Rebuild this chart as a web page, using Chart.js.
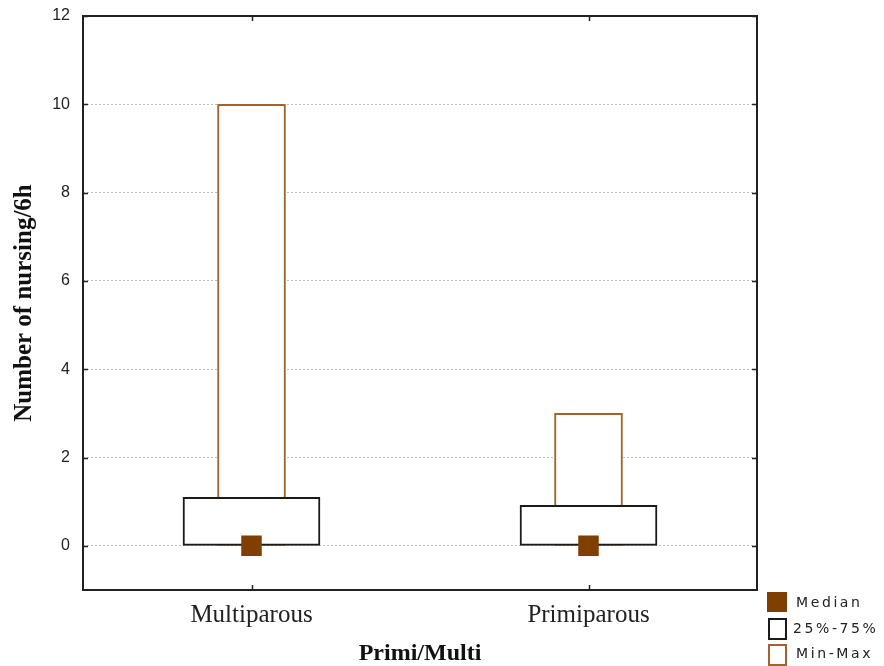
<!DOCTYPE html>
<html>
<head>
<meta charset="utf-8">
<script src="https://cdn.jsdelivr.net/npm/chart.js@4.4.1/dist/chart.umd.min.js"></script>
<style>
  html, body { margin: 0; padding: 0; background: #fff; }
  #wrap { width: 884px; height: 666px; position: relative; }
</style>
</head>
<body>
<div id="wrap"><canvas id="c" width="884" height="666"></canvas></div>
<script>
const categories = ['Multiparous', 'Primiparous'];
const minValues = [0, 0];
const maxValues = [10, 3];
const q25Values = [0, 0];
const q75Values = [1.1, 0.92];
const medianValues = [0, 0];
const yTickValues = [0, 2, 4, 6, 8, 10, 12];
const legendLabels = ['Median', '25%-75%', 'Min-Max'];

const MEDIAN_COLOR = '#7f3f00';
const MINMAX_COLOR = '#a0642d';
const BOX_COLOR = '#1a1a1a';
const FRAME_COLOR = '#222';

const framePlugin = {
  id: 'frame',
  afterDatasetsDraw(chart) {
    const ctx = chart.ctx;
    const a = chart.chartArea;
    const y = chart.scales.y, x = chart.scales.x;
    ctx.save();
    ctx.strokeStyle = FRAME_COLOR;
    ctx.lineWidth = 2;
    ctx.strokeRect(a.left, a.top, a.right - a.left, a.bottom - a.top);
    ctx.lineWidth = 1.5;
    ctx.beginPath();
    yTickValues.forEach(v => {
      const py = Math.round(y.getPixelForValue(v)) + 0.5;
      ctx.moveTo(a.left, py); ctx.lineTo(a.left + 5, py);
      ctx.moveTo(a.right, py); ctx.lineTo(a.right - 5, py);
    });
    categories.forEach((c, i) => {
      const px = Math.round(x.getPixelForValue(i)) + 0.5;
      ctx.moveTo(px, a.top); ctx.lineTo(px, a.top + 5);
      ctx.moveTo(px, a.bottom); ctx.lineTo(px, a.bottom - 5);
    });
    ctx.stroke();
    ctx.restore();
  },
  afterDraw(chart) {
    const ctx = chart.ctx;
    const a = chart.chartArea;
    const lx = a.right + 10;
    ctx.save();
    ctx.font = '14px "DejaVu Sans"';
    ctx.letterSpacing = '2.6px';
    ctx.fillStyle = '#222';
    ctx.textBaseline = 'middle';
    ctx.textAlign = 'left';
    // Median
    ctx.fillStyle = MEDIAN_COLOR;
    ctx.fillRect(lx, a.bottom + 2, 20, 20);
    ctx.fillStyle = '#222';
    ctx.fillText(legendLabels[0], lx + 29, a.bottom + 13);
    // 25-75
    ctx.lineWidth = 2;
    ctx.strokeStyle = BOX_COLOR;
    ctx.strokeRect(lx + 2, a.bottom + 29, 17, 20);
    ctx.fillText(legendLabels[1], lx + 26, a.bottom + 39);
    // Min-Max
    ctx.strokeStyle = MINMAX_COLOR;
    ctx.strokeRect(lx + 2, a.bottom + 55, 17, 20);
    ctx.fillText(legendLabels[2], lx + 29, a.bottom + 64);
    ctx.restore();
  }
};

new Chart(document.getElementById('c'), {
  data: {
    labels: categories,
    datasets: [
      {
        type: 'line',
        label: legendLabels[0],
        data: medianValues,
        showLine: false,
        pointStyle: 'rect',
        pointRadius: 14.5,
        pointHoverRadius: 14.5,
        pointBackgroundColor: MEDIAN_COLOR,
        pointBorderColor: MEDIAN_COLOR,
        pointBorderWidth: 0,
        order: 0
      },
      {
        type: 'bar',
        label: legendLabels[1],
        data: categories.map((c, i) => [q25Values[i], q75Values[i]]),
        backgroundColor: '#ffffff',
        borderColor: BOX_COLOR,
        borderWidth: 2,
        borderSkipped: false,
        barThickness: 137,
        grouped: false,
        order: 1
      },
      {
        type: 'bar',
        label: legendLabels[2],
        data: categories.map((c, i) => [minValues[i], maxValues[i]]),
        backgroundColor: '#ffffff',
        borderColor: MINMAX_COLOR,
        borderWidth: 2,
        borderSkipped: false,
        barThickness: 68,
        grouped: false,
        order: 2
      }
    ]
  },
  options: {
    responsive: false,
    animation: false,
    events: [],
    layout: { padding: { top: 16, right: 127, left: 0, bottom: 0 } },
    plugins: {
      legend: { display: false },
      tooltip: { enabled: false }
    },
    scales: {
      x: {
        type: 'category',
        offset: true,
        grid: { display: false, drawTicks: false },
        border: { display: false },
        ticks: {
          padding: 10,
          color: '#222',
          font: { family: '"Liberation Serif"', size: 25 }
        },
        title: {
          display: true,
          text: 'Primi/Multi',
          color: '#111',
          padding: { top: 0, bottom: 0 },
          font: { family: '"Liberation Serif"', size: 24, weight: 'bold', lineHeight: 1 }
        },
        afterFit(s) { s.height = 76; s.paddingLeft = 0; s.paddingRight = 0; }
      },
      y: {
        type: 'linear',
        min: -1,
        max: 12,
        afterBuildTicks(s) { s.ticks = yTickValues.map(v => ({ value: v })); },
        grid: {
          drawTicks: false,
          color: '#bdbdbd',
          lineWidth: 1
        },
        border: { display: false, dash: [2, 2] },
        ticks: {
          padding: 13,
          color: '#222',
          font: { family: '"Liberation Sans"', size: 16 }
        },
        title: {
          display: true,
          text: 'Number of nursing/6h',
          color: '#111',
          padding: { top: 12, bottom: 0 },
          font: { family: '"Liberation Serif"', size: 25, weight: 'bold', lineHeight: 1 }
        },
        afterFit(s) { s.width = 83; s.paddingTop = 0; s.paddingBottom = 0; }
      }
    }
  },
  plugins: [framePlugin]
});
</script>
</body>
</html>
